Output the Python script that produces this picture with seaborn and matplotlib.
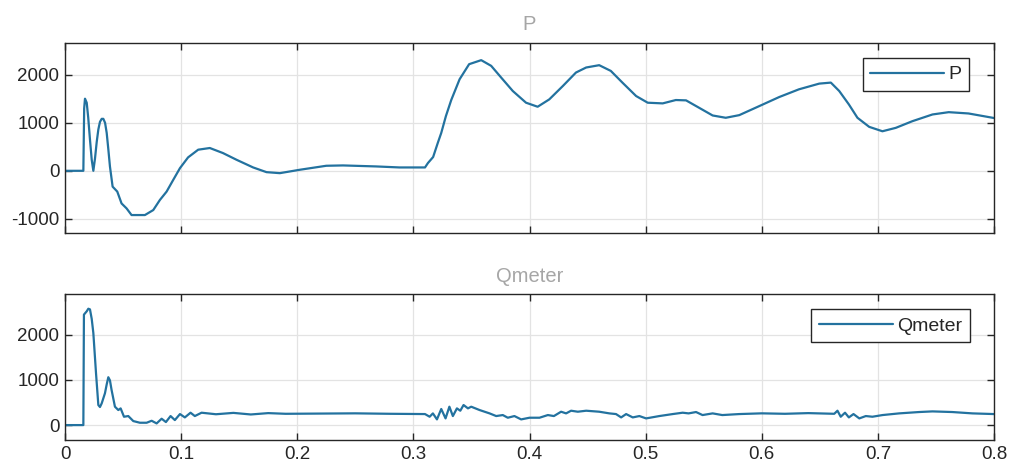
import numpy as np
import pandas as pd
import matplotlib
matplotlib.use("Agg")
import matplotlib.pyplot as plt
import seaborn as sns

# ---- data ----
P_t = [0, 0.0158, 0.0165, 0.0172, 0.0187, 0.0200, 0.0215, 0.0230, 0.0244, 0.0258,
       0.0273, 0.0287, 0.0301, 0.0316, 0.033, 0.0345, 0.0359, 0.0373, 0.0387,
       0.041, 0.045, 0.0487, 0.053, 0.0573, 0.0688, 0.076, 0.0817, 0.0875, 0.0932,
       0.099, 0.106, 0.1147, 0.1247, 0.136, 0.1477, 0.162, 0.1735, 0.185, 0.202,
       0.225, 0.2394, 0.268, 0.288, 0.310, 0.3125, 0.317, 0.321, 0.324, 0.328,
       0.3326, 0.3398, 0.348, 0.3584, 0.367, 0.3756, 0.3856, 0.397, 0.407, 0.417,
       0.4287, 0.440, 0.4488, 0.460, 0.470, 0.480, 0.4918, 0.5018, 0.5147, 0.526,
       0.5348, 0.546, 0.5577, 0.569, 0.5806, 0.5978, 0.615, 0.632, 0.6495, 0.6595,
       0.6667, 0.675, 0.6824, 0.6925, 0.7039, 0.7154, 0.7297, 0.747, 0.761, 0.778,
       0.800]
P_v = [0, 0, 1300, 1503, 1419, 1105, 650, 230, 0, 250,
       600, 860, 1020, 1083, 1083, 1000, 790, 450, 90,
       -330, -433, -680, -783, -922, -922, -818, -608, -433, -189,
       56, 280, 440, 475, 370, 230, 70, -28, -49, 21,
       105, 112, 91, 70, 70, 161, 287, 580, 790, 1140,
       1475, 1908, 2222, 2306, 2187, 1943, 1663, 1419, 1335, 1488,
       1767, 2048, 2153, 2201, 2082, 1838, 1558, 1419, 1405, 1475,
       1468, 1314, 1153, 1105, 1160, 1348, 1537, 1698, 1817, 1838,
       1663, 1384, 1105, 916, 824, 895, 1034, 1174, 1222, 1195,
       1100]

Q_t = [0, 0.0158, 0.0163, 0.0187, 0.0201, 0.0215, 0.0230, 0.0244, 0.0267, 0.0287,
       0.0301, 0.0316, 0.0344, 0.0359, 0.0373, 0.0387, 0.0401, 0.043, 0.0459, 0.0479,
       0.0508, 0.0545, 0.0588, 0.0645, 0.0703,
       0.0746, 0.0789, 0.0832, 0.0869, 0.0909, 0.0946, 0.099, 0.1032, 0.1081, 0.1118,
       0.1176, 0.130, 0.145, 0.160, 0.175, 0.190, 0.220, 0.250, 0.280, 0.310,
       0.314, 0.3168, 0.3203, 0.324, 0.3277, 0.331, 0.334, 0.3375, 0.3404, 0.3432,
       0.347, 0.3498, 0.357, 0.3656, 0.3713, 0.377, 0.3813, 0.387, 0.3928, 0.400,
       0.4086, 0.4158, 0.421, 0.4272, 0.4315, 0.4358, 0.4416, 0.4488, 0.460, 0.4688,
       0.4745, 0.4789, 0.4832, 0.4889, 0.4946, 0.5004, 0.5118, 0.5233, 0.5319, 0.537,
       0.5434, 0.549, 0.5577, 0.566, 0.5806, 0.600, 0.620, 0.640, 0.6624, 0.6652,
       0.668, 0.6717, 0.675, 0.679, 0.684, 0.6896, 0.6953, 0.704, 0.7183, 0.7355,
       0.747, 0.764, 0.7814, 0.800]
Q_v = [0, 0, 2444, 2518, 2575, 2560, 2350, 2037, 1148, 444,
       400, 481, 704, 900, 1059, 990, 778, 407, 333, 370,
       185, 200, 89, 52, 52,
       96, 37, 141, 67, 200, 111, 244, 170, 274, 200,
       274, 240, 270, 235, 265, 250, 255, 260, 250, 244,
       185, 259, 126, 356, 148, 407, 200, 370, 318, 444,
       370, 407, 333, 259, 200, 222, 163, 200, 126, 163,
       163, 222, 200, 296, 259, 318, 296, 318, 296, 259,
       244, 170, 244, 170, 200, 148, 200, 244, 274, 259,
       289, 222, 259, 222, 244, 260, 250, 265, 250, 318,
       185, 274, 170, 244, 148, 200, 185, 222, 259, 289,
       303, 289, 259, 244]

x_ticks = [0, 0.1, 0.2, 0.3, 0.4, 0.5, 0.6, 0.7, 0.8]
x_tick_labels = ["0", "0.1", "0.2", "0.3", "0.4", "0.5", "0.6", "0.7", "0.8"]
P_yticks = [-1000, 0, 1000, 2000]
Q_yticks = [0, 1000, 2000]

# ---- style ----
sns.set_style("whitegrid")
plt.rcParams['font.family'] = ['Liberation Sans', 'DejaVu Sans']

line_color = "#23729f"
grid_color = "#e3e3e3"
spine_color = "#262626"
title_color = "#a6a6a6"

fig = plt.figure(figsize=(10.11, 4.67), dpi=100)
ax1 = fig.add_axes([0.0643, 0.5017, 0.9189, 0.4069])
ax2 = fig.add_axes([0.0643, 0.0578, 0.9189, 0.3126])

dfP = pd.DataFrame({"t": P_t, "val": P_v})
dfQ = pd.DataFrame({"t": Q_t, "val": Q_v})

sns.lineplot(data=dfP, x="t", y="val", ax=ax1, color=line_color, linewidth=1.6,
             estimator=None, sort=False, label="P")
sns.lineplot(data=dfQ, x="t", y="val", ax=ax2, color=line_color, linewidth=1.6,
             estimator=None, sort=False, label="Qmeter")

for ax, yt, ylim, title, leg_anchor in [
        (ax1, P_yticks, (-1290, 2670), "P", (0.973, 0.919)),
        (ax2, Q_yticks, (-330, 2900), "Qmeter", (0.974, 0.896))]:
    ax.set_xlim(0, 0.8)
    ax.set_ylim(*ylim)
    ax.set_xticks(x_ticks)
    ax.set_yticks(yt)
    ax.set_yticklabels([str(v) for v in yt])
    ax.set_xlabel("")
    ax.set_ylabel("")
    ax.grid(True, color=grid_color, linewidth=0.9, linestyle='-')
    ax.set_facecolor("white")
    for s in ax.spines.values():
        s.set_visible(True)
        s.set_color(spine_color)
        s.set_linewidth(1.0)
    ax.tick_params(axis='both', which='both', direction='in', length=5,
                   width=1.0, color=spine_color, labelcolor="#262626",
                   labelsize=13.5, top=True, right=True, bottom=True, left=True,
                   pad=4)
    ax.set_title(title, color=title_color, fontsize=14.5, pad=9)
    leg = ax.legend(loc="upper right", bbox_to_anchor=leg_anchor,
                    borderaxespad=0, fontsize=14, frameon=True, fancybox=False,
                    handlelength=3.8, handletextpad=0.2, borderpad=0.4)
    leg.get_frame().set_edgecolor("#262626")
    leg.get_frame().set_linewidth(1.0)
    leg.get_frame().set_alpha(1.0)

ax1.set_xticklabels([])
ax2.set_xticklabels(x_tick_labels)

fig.savefig("out.png", dpi=100)
